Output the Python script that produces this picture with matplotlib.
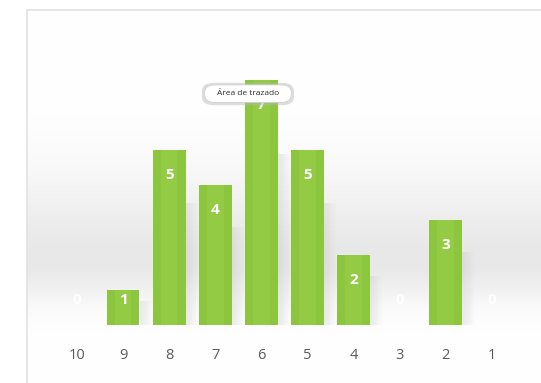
import numpy as np
import matplotlib.pyplot as plt
from matplotlib.patches import FancyBboxPatch, Rectangle

# Datos del gráfico
categorias = ['10', '9', '8', '7', '6', '5', '4', '3', '2', '1']
valores = [0, 1, 5, 4, 7, 5, 2, 0, 3, 0]
tooltip_texto = 'Área de trazado'

plt.rcParams['font.family'] = ['Open Sans', 'DejaVu Sans']

fig = plt.figure(figsize=(5.41, 3.83), dpi=100)
fig.patch.set_facecolor('white')
ax = fig.add_axes([27 / 541, 0, 514 / 541, 373 / 383])

x = np.arange(len(categorias))
ax.set_xlim(-1.085, 10.07)
ax.set_ylim(-1.657, 9)

# fondo con franja gris degradada cerca de la base
ys = np.linspace(-1.657, 9, 300)
centro = 1.8
grad = np.where(ys > centro,
                np.exp(-((ys - centro) / 2.4) ** 2),
                np.exp(-((ys - centro) / 1.1) ** 2))
gris = 1.0 - 0.09 * grad
img = np.dstack([gris, gris, gris]).reshape(len(ys), 1, 3)
ax.imshow(img, extent=[-1.085, 10.07, -1.657, 9], origin='lower',
          aspect='auto', zorder=0, interpolation='bilinear')

# sombras suaves a la derecha de las barras
for xi, v in zip(x, valores):
    if v > 0:
        for k in range(6):
            ax.add_patch(Rectangle((xi + 0.36, 0), 0.06 + k * 0.04, v * 0.7,
                                   facecolor='#9a9a9a', alpha=0.022,
                                   edgecolor='none', zorder=1))

bars = ax.bar(x, valores, width=0.71, color='#8cc63f', edgecolor='none', zorder=2)
# brillo central de cada barra
ax.bar(x, valores, width=0.36, color='#9bd04a', edgecolor='none', zorder=2, alpha=0.6)

for xi, v in zip(x, valores):
    y_lab = max(v - 0.72, 0.72)
    ax.text(xi, y_lab, str(v), ha='center', va='center', color='white',
            fontsize=11, fontweight='bold', zorder=4)
    ax.text(xi, -0.86, categorias[xi], ha='center', va='center',
            color='#5a5a5a', fontsize=10.5, zorder=4)

# cuadro emergente
tx, ty = 3.71, 6.6
ax.add_patch(FancyBboxPatch((tx - 0.98, ty - 0.3), 1.96, 0.6,
                            boxstyle='round,pad=0.02,rounding_size=0.25',
                            facecolor='#b5b5b5', edgecolor='none',
                            alpha=0.45, zorder=5))
ax.add_patch(FancyBboxPatch((tx - 0.92, ty - 0.22), 1.84, 0.46,
                            boxstyle='round,pad=0.02,rounding_size=0.22',
                            facecolor='white', edgecolor='#d0d0d0',
                            linewidth=0.6, zorder=6))
ax.text(tx, ty + 0.01, tooltip_texto, ha='center', va='center', fontsize=6,
        color='#2a2a2a', zorder=7)

for s in ['right', 'bottom']:
    ax.spines[s].set_visible(False)
for s in ['left', 'top']:
    ax.spines[s].set_color('#e2e2e2')
    ax.spines[s].set_linewidth(1.2)
ax.set_xticks([])
ax.set_yticks([])

fig.savefig('out.png', dpi=100)
